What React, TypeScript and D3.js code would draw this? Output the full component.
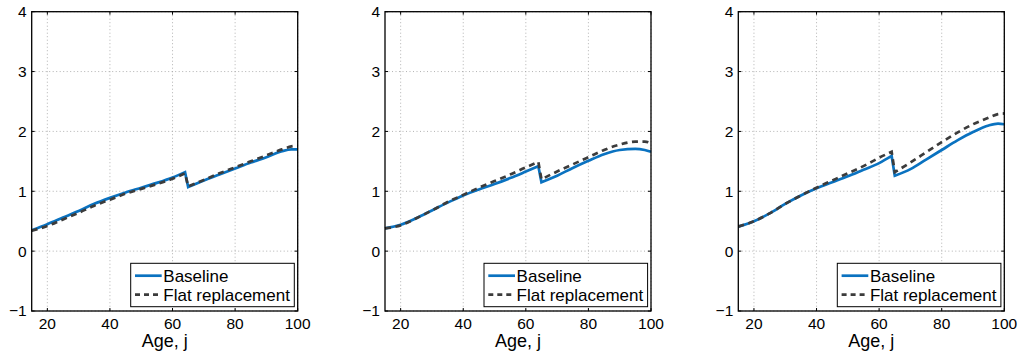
import React, { useEffect, useRef } from "react";
import * as d3 from "d3";

// ages on the x axis
const ages = [15, 20, 25, 30, 35, 40, 45, 50, 55, 60, 64, 65, 70, 75, 80, 85, 90, 95, 98, 100];

// panel 1
const baseline1 = [0.35, 0.45, 0.56, 0.67, 0.79, 0.89, 0.98, 1.06, 1.14, 1.23, 1.32, 1.07, 1.18, 1.28, 1.38, 1.48, 1.57, 1.67, 1.70, 1.70];
const flat1 = [0.34, 0.42, 0.53, 0.64, 0.76, 0.86, 0.96, 1.04, 1.12, 1.21, 1.30, 1.08, 1.19, 1.30, 1.40, 1.50, 1.60, 1.70, 1.75, 1.76];
// panel 2
const baseline2 = [0.38, 0.44, 0.55, 0.68, 0.81, 0.93, 1.03, 1.12, 1.22, 1.33, 1.42, 1.15, 1.26, 1.39, 1.51, 1.62, 1.69, 1.71, 1.69, 1.66];
const flat2 = [0.38, 0.43, 0.55, 0.68, 0.82, 0.94, 1.06, 1.17, 1.28, 1.40, 1.49, 1.20, 1.33, 1.45, 1.57, 1.69, 1.78, 1.83, 1.83, 1.80];
// panel 3
const baseline3 = [0.41, 0.50, 0.63, 0.79, 0.93, 1.05, 1.15, 1.25, 1.36, 1.47, 1.59, 1.26, 1.37, 1.53, 1.69, 1.85, 1.99, 2.10, 2.13, 2.12];
const flat3 = [0.41, 0.50, 0.63, 0.79, 0.93, 1.06, 1.18, 1.30, 1.42, 1.56, 1.66, 1.32, 1.48, 1.65, 1.82, 1.98, 2.12, 2.23, 2.29, 2.30];

const xTicks = [20, 40, 60, 80, 100];
const yTicks = [-1, 0, 1, 2, 3, 4];
const seriesNames = ["Baseline", "Flat replacement"];
const retireAge = 64;

const panels = [
  [baseline1, flat1],
  [baseline2, flat2],
  [baseline3, flat3],
];

const W = 1023;
const H = 354;
const FONT = "'Liberation Sans', Arial, Helvetica, sans-serif";
const BLUE = "#0a72c0";
const DARK = "#3c3c3c";

function App() {
  const ref = useRef<SVGSVGElement>(null);

  useEffect(() => {
    document.body.style.margin = "0";
    const svg = d3.select(ref.current);
    svg.selectAll("*").remove();

    const plotW = 266;
    const top = 11.7;
    const bottom = 311;
    const lefts = [31.7, 385, 738.3];

    panels.forEach((series, p) => {
      const left = lefts[p];
      const x = d3.scaleLinear().domain([15, 100]).range([left, left + plotW]);
      const y = d3.scaleLinear().domain([-1, 4]).range([bottom, top]);
      const g = svg.append("g");

      // dotted grid
      g.selectAll(".gx")
        .data(xTicks)
        .enter()
        .append("line")
        .attr("x1", (d) => x(d))
        .attr("x2", (d) => x(d))
        .attr("y1", top)
        .attr("y2", bottom)
        .attr("stroke", "#a0a0a0")
        .attr("stroke-width", 0.8)
        .attr("stroke-dasharray", "1,2.5");
      g.selectAll(".gy")
        .data(yTicks)
        .enter()
        .append("line")
        .attr("x1", left)
        .attr("x2", left + plotW)
        .attr("y1", (d) => y(d))
        .attr("y2", (d) => y(d))
        .attr("stroke", "#a0a0a0")
        .attr("stroke-width", 0.8)
        .attr("stroke-dasharray", "1,2.5");

      // curves: smooth before and after retirement, straight drop between
      const line = d3
        .line<[number, number]>()
        .x((d) => x(d[0]))
        .y((d) => y(d[1]))
        .curve(d3.curveMonotoneX);

      const makePath = (vals: number[]) => {
        const pts: [number, number][] = ages.map((a, i) => [a, vals[i]]);
        const pre = pts.filter((d) => d[0] <= retireAge);
        const post = pts.filter((d) => d[0] > retireAge);
        return (line(pre) || "") + (line(post) || "").replace(/^M/, "L");
      };

      g.append("path")
        .attr("d", makePath(series[0]))
        .attr("fill", "none")
        .attr("stroke", BLUE)
        .attr("stroke-width", 2.7);
      g.append("path")
        .attr("d", makePath(series[1]))
        .attr("fill", "none")
        .attr("stroke", DARK)
        .attr("stroke-width", 2.7)
        .attr("stroke-dasharray", "6,4.5");

      // box and inward ticks
      g.append("rect")
        .attr("x", left)
        .attr("y", top)
        .attr("width", plotW)
        .attr("height", bottom - top)
        .attr("fill", "none")
        .attr("stroke", "#000")
        .attr("stroke-width", 1.3);
      xTicks.forEach((t) => {
        g.append("line").attr("x1", x(t)).attr("x2", x(t)).attr("y1", bottom).attr("y2", bottom - 3).attr("stroke", "#000");
        g.append("line").attr("x1", x(t)).attr("x2", x(t)).attr("y1", top).attr("y2", top + 3).attr("stroke", "#000");
      });
      yTicks.forEach((t) => {
        g.append("line").attr("x1", left).attr("x2", left + 3).attr("y1", y(t)).attr("y2", y(t)).attr("stroke", "#000");
        g.append("line").attr("x1", left + plotW).attr("x2", left + plotW - 3).attr("y1", y(t)).attr("y2", y(t)).attr("stroke", "#000");
      });

      // tick labels
      g.selectAll(".xl")
        .data(xTicks)
        .enter()
        .append("text")
        .attr("x", (d) => x(d))
        .attr("y", 328.5)
        .attr("text-anchor", "middle")
        .style("font-family", FONT)
        .style("font-size", "15.5px")
        .attr("fill", "#000")
        .text((d) => String(d));
      g.selectAll(".yl")
        .data(yTicks)
        .enter()
        .append("text")
        .attr("x", left - 5)
        .attr("y", (d) => y(d) + 5.4)
        .attr("text-anchor", "end")
        .style("font-family", FONT)
        .style("font-size", "15.5px")
        .attr("fill", "#000")
        .text((d) => (d < 0 ? "\u2212" + Math.abs(d) : String(d)));

      // x axis label
      g.append("text")
        .attr("x", left + plotW / 2)
        .attr("y", 347)
        .attr("text-anchor", "middle")
        .style("font-family", FONT)
        .style("font-size", "18px")
        .attr("fill", "#000")
        .text("Age, j");

      // legend
      const lw = 163.6;
      const lh = 43.4;
      const lx = left + plotW - 3.4 - lw;
      const ly = bottom - 4.3 - lh;
      const leg = g.append("g");
      leg.append("rect")
        .attr("x", lx)
        .attr("y", ly)
        .attr("width", lw)
        .attr("height", lh)
        .attr("fill", "#fff")
        .attr("stroke", "#000")
        .attr("stroke-width", 1);
      seriesNames.forEach((name, i) => {
        const cy = ly + 12.4 + i * 19;
        leg.append("line")
          .attr("x1", lx + 4.3)
          .attr("x2", lx + 31)
          .attr("y1", cy)
          .attr("y2", cy)
          .attr("stroke", i === 0 ? BLUE : DARK)
          .attr("stroke-width", 2.7)
          .attr("stroke-dasharray", i === 0 ? null : "5,4");
        leg.append("text")
          .attr("x", lx + 32.6)
          .attr("y", cy + 6)
          .style("font-family", FONT)
          .style("font-size", "17px")
          .attr("fill", "#000")
          .text(name);
      });
    });
  }, []);

  return (
    <div>
      <svg ref={ref} width={W} height={H} style={{ display: "block", background: "#fff" }} />
    </div>
  );
}

export default App;
